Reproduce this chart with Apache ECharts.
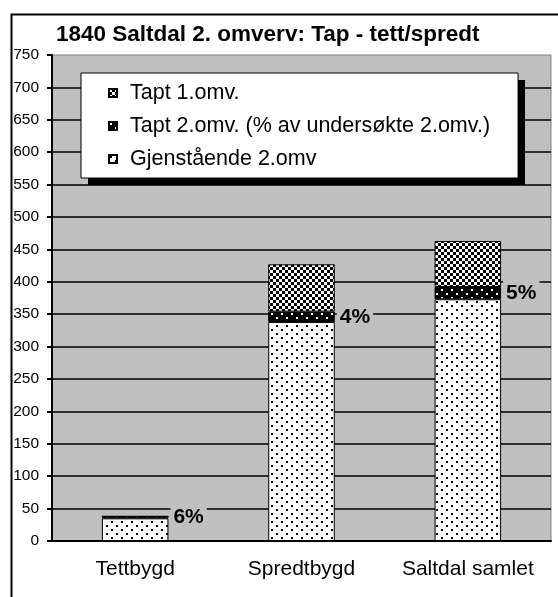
<!DOCTYPE html>
<html>
<head>
<meta charset="utf-8">
<script src="https://cdn.jsdelivr.net/npm/echarts@6/dist/echarts.min.js"></script>
<style>
  html, body { margin: 0; padding: 0; background: #fff; }
  #chart { width: 558px; height: 597px; }
</style>
</head>
<body>
<div id="chart"></div>
<script>
// kategorier og verdier lest av figuren
var categories = ['Tettbygd', 'Spredtbygd', 'Saltdal samlet'];
var gjenstaende = [35, 338, 373];   // Gjenstående 2.omv
var tapt2 = [3, 16, 19];            // Tapt 2.omv.
var tapt1 = [0, 73, 71];            // Tapt 1.omv.
var taptPct = ['6%', '4%', '5%'];
var seriesNames = ['Tapt 1.omv.', 'Tapt 2.omv. (% av undersøkte 2.omv.)', 'Gjenstående 2.omv'];
var yMin = 0, yMax = 750, yStep = 50;

var FONT = "'Liberation Sans', Arial, sans-serif";

// lager et lite mønster (skravur) som canvas
function pattern(w, h, bg, fg, cells) {
    var c = document.createElement('canvas');
    c.width = w; c.height = h;
    var ctx = c.getContext('2d');
    ctx.fillStyle = bg;
    ctx.fillRect(0, 0, w, h);
    ctx.fillStyle = fg;
    cells.forEach(function (p) { ctx.fillRect(p[0], p[1], p[2], p[3]); });
    return { image: c, repeat: 'repeat' };
}

var dotsWhite = pattern(10, 8, '#fff', '#000', [[1, 1, 2, 2], [6, 5, 2, 2]]);
var dotsBlack = pattern(10, 8, '#000', '#fff', [[1, 1, 2, 2], [6, 5, 2, 2]]);
var checker = pattern(6, 6, '#000', '#fff', [[0, 0, 3, 3], [3, 3, 3, 3]]);

var myChart = echarts.init(document.getElementById('chart'));
var options = {
    backgroundColor: '#fff',
    animation: false,
    textStyle: { fontFamily: FONT },
    graphic: [
        {   // ytre ramme
            type: 'rect',
            left: 9, top: 12,
            shape: { width: 620, height: 620 },
            style: { fill: 'none', stroke: '#000', lineWidth: 2 },
            z: 100
        },
        {   // skygge bak tegnforklaringen
            type: 'rect',
            left: 88, top: 80,
            shape: { width: 437, height: 105 },
            style: { fill: '#000' },
            z: 3
        }
    ],
    title: {
        text: '1840 Saltdal 2. omverv: Tap - tett/spredt',
        left: 56, top: 23, padding: 0,
        textStyle: { fontFamily: FONT, fontSize: 22.5, fontWeight: 'bold', color: '#000' }
    },
    legend: {
        orient: 'vertical',
        left: 81, top: 73,
        padding: [9, 28, 8, 27],
        itemGap: 11,
        itemWidth: 8, itemHeight: 8,
        icon: 'rect',
        backgroundColor: '#fff',
        borderColor: '#000',
        borderWidth: 1,
        selectedMode: false,
        z: 4,
        data: seriesNames,
        textStyle: { fontFamily: FONT, fontSize: 21.5, color: '#000', padding: [0, 0, 0, 8] }
    },
    grid: {
        left: 52, top: 55, right: 7, bottom: 56,
        show: true,
        backgroundColor: '#c0c0c0',
        borderColor: '#808080',
        borderWidth: 1
    },
    xAxis: {
        type: 'category',
        data: categories,
        axisLine: { lineStyle: { color: '#000', width: 2 } },
        axisTick: { length: 5, lineStyle: { color: '#000', width: 2 } },
        axisLabel: { color: '#000', fontSize: 21, fontFamily: FONT, margin: 18, interval: 0 }
    },
    yAxis: {
        type: 'value',
        min: yMin, max: yMax, interval: yStep,
        axisLine: { show: true, lineStyle: { color: '#000', width: 2 } },
        axisTick: { show: true, length: 5, lineStyle: { color: '#000', width: 2 } },
        axisLabel: { color: '#000', fontSize: 15.5, fontFamily: FONT, margin: 13 },
        splitLine: { show: true, showMaxLine: false, lineStyle: { color: '#000', width: 1.5 } }
    },
    series: [
        {
            name: seriesNames[2],
            type: 'bar',
            stack: 'total',
            barWidth: '40%',
            itemStyle: { color: dotsWhite, borderColor: '#000', borderWidth: 1 },
            data: gjenstaende
        },
        {
            name: seriesNames[1],
            type: 'bar',
            stack: 'total',
            itemStyle: { color: dotsBlack, borderColor: '#000', borderWidth: 1 },
            label: {
                show: true,
                position: 'right',
                distance: 2,
                formatter: function (p) { return taptPct[p.dataIndex]; },
                color: '#000',
                fontFamily: FONT,
                fontSize: 21,
                fontWeight: 'bold',
                backgroundColor: '#c0c0c0',
                padding: [7, 3, 7, 3]
            },
            data: tapt2
        },
        {
            name: seriesNames[0],
            type: 'bar',
            stack: 'total',
            itemStyle: { color: checker, borderColor: '#000', borderWidth: 1 },
            data: tapt1
        }
    ]
};
myChart.setOption(options);
</script>
</body>
</html>
